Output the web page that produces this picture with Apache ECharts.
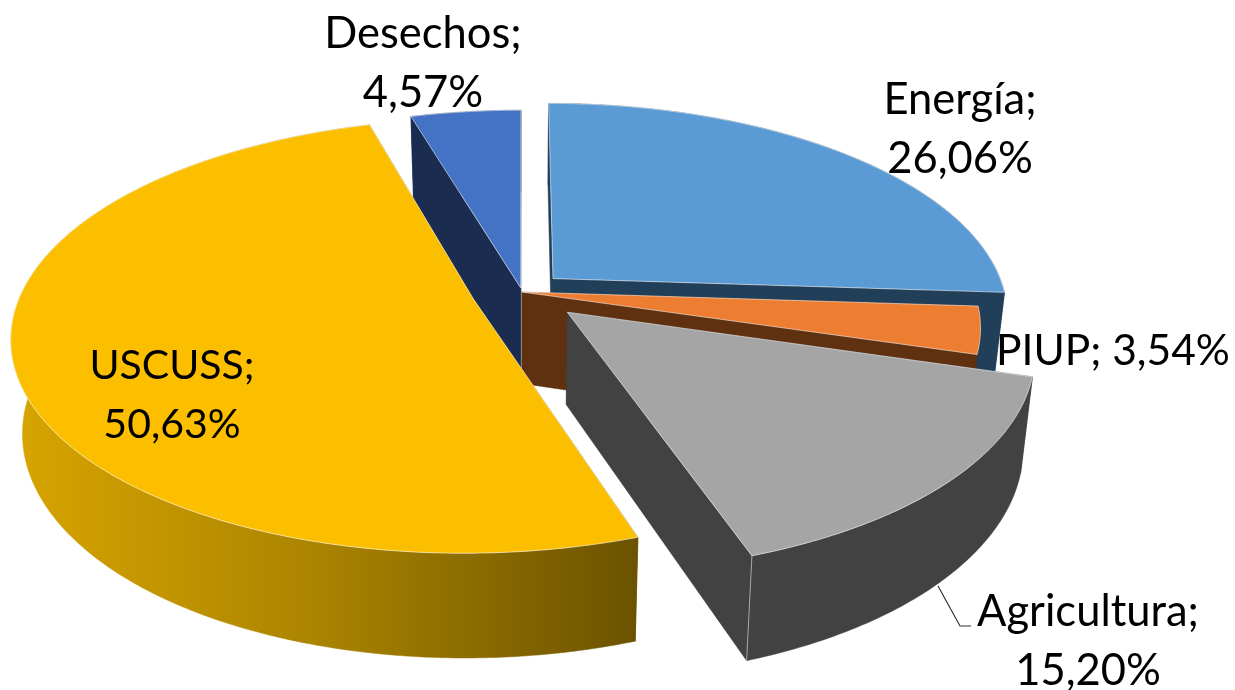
<!DOCTYPE html>
<html>
<head>
<meta charset="utf-8">
<title>Emisiones por sector</title>
<script src="https://cdn.jsdelivr.net/npm/echarts@6/dist/echarts.min.js"></script>
<style>
	html, body {margin: 0; padding: 0; background: #fff;}
	#chart {width: 1235px; height: 690px;}
</style>
</head>
<body>
<div id="chart"></div>
<script>
var categories = ['Energía', 'PIUP', 'Agricultura', 'USCUSS', 'Desechos'];
var shares = [26.06, 3.54, 15.20, 50.63, 4.57];

// pie look, not data: how far each slice is pulled out, colours, label spots
var explode = [0.095, 0, 0.137, 0.112, 0.02];
var topColors = ['#5b9bd5', '#ed7d31', '#a5a5a5', '#fcbf00', '#4472c4'];
var wallColors = ['#223f59', '#5f3111', '#424242', '#6a5200', '#1a2c50'];
var labelSpots = [[960, 129], [996, 351], [1088, 641], [172, 395], [423, 63]];
var labelSizes = [43.5, 42.5, 43.5, 41, 43.5];
var drawOrder = [0, 4, 1, 3, 2];

var view = {cx: 522, cy: 292, rx: 452, ry: 208.8, persp: 0.168, depth: 91.5, shrink: 0.977};
var labelFont = 'Lato, "Noto Sans", sans-serif';

var total = shares.reduce(function(a, b){ return a + b; }, 0);
var starts = [];
shares.reduce(function(acc, v, i){
	starts[i] = acc;
	return acc + v;
}, 0);

function project(i, t, radius, low){
	var mid = (starts[i] + shares[i] / 2) / total * Math.PI * 2;
	var u = explode[i] * Math.sin(mid) + radius * Math.sin(t);
	var v = -explode[i] * Math.cos(mid) - radius * Math.cos(t);
	var s = 1 / (1 - view.persp * v);
	var x = view.rx * u * s;
	var y = view.ry * v * s;
	if(low){
		return [view.cx + x * view.shrink, view.cy + y * view.shrink + view.depth * s];
	}
	return [view.cx + x, view.cy + y];
}

function arc(i, low){
	var a = starts[i] / total * Math.PI * 2;
	var b = (starts[i] + shares[i]) / total * Math.PI * 2;
	var n = Math.ceil((b - a) / 0.01);
	var pts = [];
	for(var k = 0; k <= n; k++){
		pts.push(project(i, a + (b - a) * k / n, 1, low));
	}
	return pts;
}

function poly(points, fill, stroke){
	return {
		type: 'polygon',
		silent: true,
		shape: {points: points},
		style: {fill: fill, stroke: stroke || fill, lineWidth: stroke ? 1 : 0.5, lineJoin: 'round'}
	};
}

function renderSlice(params, api){
	var i = api.value(0);
	var topArc = arc(i, false);
	var lowArc = arc(i, true);
	var apex = project(i, 0, 0, false);
	var apexLow = project(i, 0, 0, true);
	var last = topArc.length - 1;
	var side = wallColors[i];
	var outer = side;
	if(categories[i] === 'USCUSS'){
		outer = {
			type: 'linear', x: 12, y: 0, x2: 640, y2: 0, global: true,
			colorStops: [
				{offset: 0, color: '#d8a500'},
				{offset: 0.5, color: '#a98200'},
				{offset: 1, color: '#6a5200'}
			]
		};
	}
	var children = [
		poly([apex, topArc[0], lowArc[0], apexLow], side),
		poly([apex, topArc[last], lowArc[last], apexLow], side),
		poly(topArc.concat(lowArc.slice().reverse()), outer),
		poly([apex].concat(topArc), topColors[i], 'rgba(255,255,255,0.55)')
	];
	if(categories[i] === 'Agricultura'){
		children.push({
			type: 'line',
			silent: true,
			shape: {x1: topArc[last][0], y1: topArc[last][1], x2: lowArc[last][0], y2: lowArc[last][1]},
			style: {stroke: 'rgba(255,255,255,0.5)', lineWidth: 1}
		});
	}
	return {type: 'group', children: children};
}

function renderLabel(params, api){
	var i = api.value(0);
	var pct = shares[i].toFixed(2).replace('.', ',') + '%';
	var oneLine = categories[i] === 'PIUP';
	var children = [{
		type: 'text',
		silent: true,
		x: labelSpots[i][0],
		y: labelSpots[i][1],
		style: {
			text: categories[i] + (oneLine ? '; ' : ';\n') + pct,
			font: labelSizes[i] + 'px ' + labelFont,
			lineHeight: 59,
			fill: '#000',
			align: oneLine ? 'left' : 'center',
			verticalAlign: 'middle'
		}
	}];
	if(categories[i] === 'Agricultura'){
		children.push({
			type: 'polyline',
			silent: true,
			shape: {points: [[938, 586], [960, 626], [971, 626]]},
			style: {stroke: '#333', lineWidth: 1.2, fill: 'none'}
		});
	}
	return {type: 'group', children: children};
}

var chart = echarts.init(document.getElementById('chart'));
chart.setOption({
	animation: false,
	backgroundColor: '#fff',
	series: [{
		type: 'custom',
		coordinateSystem: 'none',
		clip: false,
		renderItem: renderSlice,
		data: drawOrder.map(function(i){ return [i, shares[i]]; })
	}, {
		type: 'custom',
		coordinateSystem: 'none',
		clip: false,
		z: 5,
		renderItem: renderLabel,
		data: categories.map(function(c, i){ return [i, shares[i]]; })
	}]
});
</script>
</body>
</html>
